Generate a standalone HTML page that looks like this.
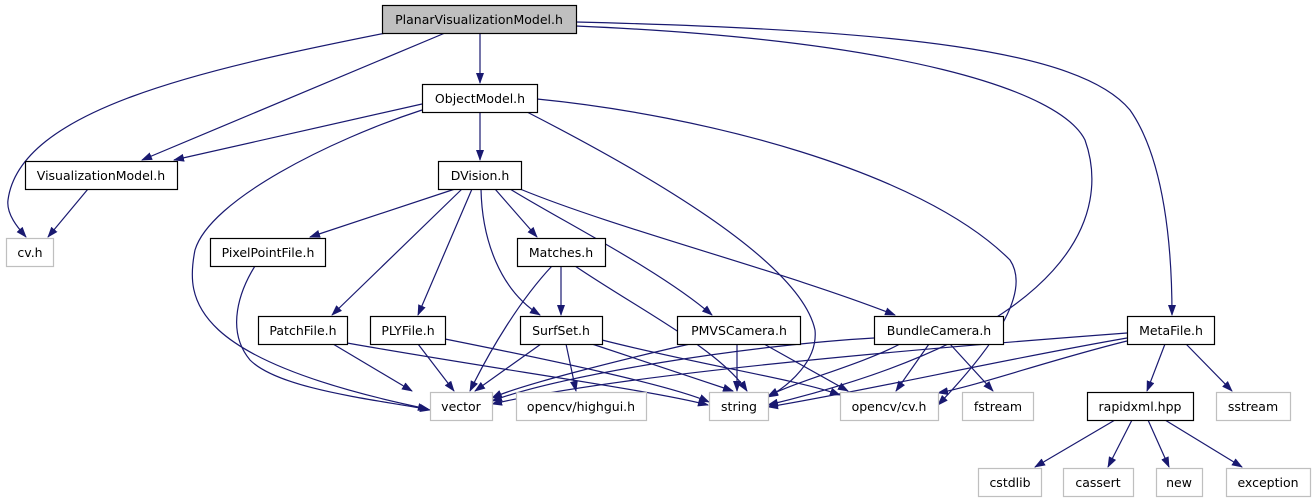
<!DOCTYPE html>
<html><head><meta charset="utf-8"><style>
html,body{margin:0;padding:0;background:#fff;}
svg{display:block;}
text{font-family:"DejaVu Sans","Liberation Sans",sans-serif;font-size:12.5px;fill:#000;}
</style></head><body>
<svg width="1315" height="504" viewBox="0 0 1315 504" xmlns="http://www.w3.org/2000/svg">
<defs>
<marker id="a" markerWidth="11" markerHeight="8" refX="10" refY="4" orient="auto" markerUnits="userSpaceOnUse">
<path d="M0,0 L11,4 L0,8 Z" fill="#191970"/>
</marker>
</defs>
<g fill="none" stroke="#191970" stroke-width="1.2" marker-end="url(#a)">
<!-- Planar -->
<path d="M386,33 C200,70 20,110 8,200 C6,215 20,230 26,237"/>
<path d="M445,33 L142,160"/>
<path d="M480,33 L480,83"/>
<path d="M576,22 C900,30 1080,50 1130,110 C1165,160 1172,250 1172,315"/>
<path d="M576,26 C900,40 1060,90 1085,140 C1110,210 1080,330 768,405"/>
<!-- ObjectModel -->
<path d="M422,104 L174,160"/>
<path d="M422,110 C330,140 210,200 195,250 C185,300 190,360 428,409"/>
<path d="M480,112 L480,160"/>
<path d="M527,112 C640,170 800,260 815,330 C818,360 790,385 768,397"/>
<path d="M537,99 C700,115 920,170 1010,260 C1030,290 1000,340 938,405"/>
<!-- VisualizationModel -->
<path d="M88,189 L48,237"/>
<!-- DVision -->
<path d="M455,189 L310,237"/>
<path d="M462,189 L332,315"/>
<path d="M472,189 L418,315"/>
<path d="M481,189 C482,240 500,290 540,315"/>
<path d="M495,189 L537,237"/>
<path d="M510,189 C560,220 660,270 712,315"/>
<path d="M520,189 C620,230 780,270 895,315"/>
<!-- PixelPointFile -->
<path d="M255,266 C240,290 225,330 250,360 C280,390 380,400 430,410"/>
<!-- Matches -->
<path d="M561,266 L561,315"/>
<path d="M552,266 C520,300 490,350 470,391"/>
<path d="M575,266 C640,310 720,350 747,391"/>
<!-- PatchFile -->
<path d="M333,344 L412,391"/>
<path d="M347,343 C500,370 650,390 708,405"/>
<!-- PLYFile -->
<path d="M418,344 L454,391"/>
<path d="M445,339 C550,360 670,385 709,402"/>
<!-- SurfSet -->
<path d="M541,344 L475,391"/>
<path d="M566,344 L576,391"/>
<path d="M592,344 L733,391"/>
<path d="M602,340 C700,365 800,380 840,395"/>
<!-- PMVSCamera -->
<path d="M690,344 C620,360 520,385 492,398"/>
<path d="M737,344 L737,391"/>
<path d="M764,344 L848,391"/>
<!-- BundleCamera -->
<path d="M874,338 C750,345 560,375 492,401"/>
<path d="M900,344 C860,365 800,380 768,396"/>
<path d="M929,344 L896,391"/>
<path d="M950,344 L993,391"/>
<!-- MetaFile -->
<path d="M1127,333 C900,350 620,375 492,404"/>
<path d="M1127,338 C1000,360 870,390 768,407"/>
<path d="M1127,341 C1050,360 980,385 938,393"/>
<path d="M1165,344 L1147,391"/>
<path d="M1186,344 L1232,391"/>
<!-- rapidxml -->
<path d="M1115,420 L1035,467"/>
<path d="M1132,420 L1108,467"/>
<path d="M1148,420 L1169,467"/>
<path d="M1165,420 L1242,467"/>
</g>
<g stroke-width="1.2">
<rect x="382.5" y="5.5" width="194" height="28" fill="#bfbfbf" stroke="#000"/>
<rect x="422.5" y="84.5" width="115" height="28" fill="#fff" stroke="#000"/>
<rect x="25.5" y="161.5" width="152" height="28" fill="#fff" stroke="#000"/>
<rect x="438.5" y="161.5" width="83" height="28" fill="#fff" stroke="#000"/>
<rect x="6.5" y="238.5" width="47" height="28" fill="#fff" stroke="#bfbfbf"/>
<rect x="210.5" y="238.5" width="115" height="28" fill="#fff" stroke="#000"/>
<rect x="517.5" y="238.5" width="88" height="28" fill="#fff" stroke="#000"/>
<rect x="258.5" y="316.5" width="89" height="28" fill="#fff" stroke="#000"/>
<rect x="370.5" y="316.5" width="75" height="28" fill="#fff" stroke="#000"/>
<rect x="520.5" y="316.5" width="82" height="28" fill="#fff" stroke="#000"/>
<rect x="677.5" y="316.5" width="123" height="28" fill="#fff" stroke="#000"/>
<rect x="874.5" y="316.5" width="129" height="28" fill="#fff" stroke="#000"/>
<rect x="1127.5" y="316.5" width="87" height="28" fill="#fff" stroke="#000"/>
<rect x="430.5" y="392.5" width="62" height="28" fill="#fff" stroke="#bfbfbf"/>
<rect x="516.5" y="392.5" width="130" height="28" fill="#fff" stroke="#bfbfbf"/>
<rect x="709.5" y="392.5" width="59" height="28" fill="#fff" stroke="#bfbfbf"/>
<rect x="840.5" y="392.5" width="98" height="28" fill="#fff" stroke="#bfbfbf"/>
<rect x="962.5" y="392.5" width="71" height="28" fill="#fff" stroke="#bfbfbf"/>
<rect x="1087.5" y="392.5" width="106" height="28" fill="#fff" stroke="#000"/>
<rect x="1216.5" y="392.5" width="74" height="28" fill="#fff" stroke="#bfbfbf"/>
<rect x="978.5" y="468.5" width="63" height="28" fill="#fff" stroke="#bfbfbf"/>
<rect x="1063.5" y="468.5" width="70" height="28" fill="#fff" stroke="#bfbfbf"/>
<rect x="1156.5" y="468.5" width="46" height="28" fill="#fff" stroke="#bfbfbf"/>
<rect x="1226.5" y="468.5" width="84" height="28" fill="#fff" stroke="#bfbfbf"/>
</g>
<g text-anchor="middle">
<text x="479" y="24">PlanarVisualizationModel.h</text>
<text x="480" y="103">ObjectModel.h</text>
<text x="101" y="180">VisualizationModel.h</text>
<text x="480" y="180">DVision.h</text>
<text x="30" y="257">cv.h</text>
<text x="268" y="257">PixelPointFile.h</text>
<text x="561" y="257">Matches.h</text>
<text x="303" y="335">PatchFile.h</text>
<text x="408" y="335">PLYFile.h</text>
<text x="561" y="335">SurfSet.h</text>
<text x="739" y="335">PMVSCamera.h</text>
<text x="939" y="335">BundleCamera.h</text>
<text x="1171" y="335">MetaFile.h</text>
<text x="461" y="411">vector</text>
<text x="581" y="411">opencv/highgui.h</text>
<text x="739" y="411">string</text>
<text x="889" y="411">opencv/cv.h</text>
<text x="998" y="411">fstream</text>
<text x="1140" y="411">rapidxml.hpp</text>
<text x="1253" y="411">sstream</text>
<text x="1010" y="487">cstdlib</text>
<text x="1098" y="487">cassert</text>
<text x="1179" y="487">new</text>
<text x="1268" y="487">exception</text>
</g>
</svg>
</body></html>
